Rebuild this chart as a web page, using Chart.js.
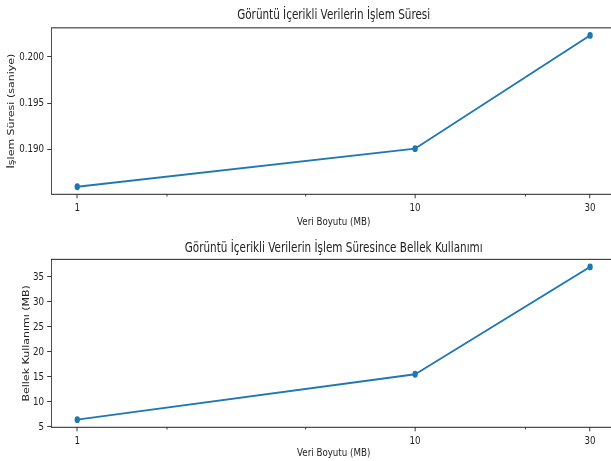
<!DOCTYPE html>
<html>
<head>
<meta charset="utf-8">
<script src="https://cdn.jsdelivr.net/npm/chart.js@4/dist/chart.umd.min.js"></script>
<style>
  html, body { margin: 0; padding: 0; overflow: hidden; background: #fff; width: 611px; height: 461px; }
  #fig { position: absolute; left: 0; top: 0; width: 785px; height: 461px; }
  #fig canvas { position: absolute; left: 0; }
</style>
</head>
<body>
<div id="fig">
  <canvas id="timeChart" width="785" height="232" style="top:0px"></canvas>
  <canvas id="memChart" width="785" height="229" style="top:232px"></canvas>
</div>
<script>
// Measurements: data size (MB), processing time (s), memory use (MB)
const sizesMB = [1, 10, 30];
const timeSec = [0.1860, 0.1901, 0.2023];
const memMB = [6.4, 15.5, 37.0];

// Tick values
const xTickValues = [1, 10, 30];
const xMinorTicks = [2, 5, 20];
const timeTicks = [0.190, 0.195, 0.200];
const memTicks = [5, 10, 15, 20, 25, 30, 35];

const SQUEEZE = 0.79;          // horizontal compression of the drawing
const FONT = "'DejaVu Sans', sans-serif";
const INK = '#222';
const BLUE = '#1f77b4';

// asinh-transformed axis (linear near zero, logarithmic further out)
class AsinhScale extends Chart.LinearScale {
  static id = 'asinh';
  static defaults = { ticks: { callback: v => String(v) } };
  buildTicks() {
    return xTickValues.map(v => ({ value: v }));
  }
  getPixelForValue(value) {
    const a = Math.asinh(this.min), b = Math.asinh(this.max);
    return this.getPixelForDecimal((Math.asinh(value) - a) / (b - a));
  }
  getValueForPixel(pixel) {
    const a = Math.asinh(this.min), b = Math.asinh(this.max);
    return Math.sinh(a + this.getDecimalForPixel(pixel) * (b - a));
  }
}
Chart.register(AsinhScale);

// narrows the whole drawing horizontally, then adds the axes frame
// and short minor ticks on the x axis
const framePlugin = {
  id: 'frame',
  beforeDraw(chart) {
    chart.ctx.save();
    chart.ctx.setTransform(SQUEEZE, 0, 0, 1, 0, 0);
  },
  afterDraw(chart) {
    const { ctx, chartArea: ca, scales } = chart;
    ctx.save();
    ctx.strokeStyle = INK;
    ctx.lineWidth = 1;
    ctx.strokeRect(ca.left, ca.top, ca.right - ca.left, ca.bottom - ca.top);
    ctx.beginPath();
    xMinorTicks.forEach(v => {
      const px = scales.x.getPixelForValue(v);
      ctx.moveTo(px, ca.bottom);
      ctx.lineTo(px, ca.bottom + 2.2);
    });
    ctx.stroke();
    ctx.restore();
    ctx.restore();
  }
};

function padded(values, frac) {
  const lo = Math.min(...values), hi = Math.max(...values);
  const m = (hi - lo) * frac;
  return [lo - m, hi + m];
}

function xLimits() {
  const a = Math.asinh(Math.min(...sizesMB)), b = Math.asinh(Math.max(...sizesMB));
  const m = (b - a) * 0.05;
  return [Math.sinh(a - m), Math.sinh(b + m)];
}

function makeChart(id, p) {
  const [xmin, xmax] = xLimits();
  const [ymin, ymax] = padded(p.values, 0.05);
  return new Chart(document.getElementById(id), {
    type: 'line',
    data: {
      datasets: [{
        data: sizesMB.map((x, i) => ({ x, y: p.values[i] })),
        borderColor: BLUE,
        backgroundColor: BLUE,
        borderWidth: 1.9,
        pointRadius: 3.4,
        pointHoverRadius: 3.4,
        pointBorderWidth: 0,
        tension: 0,
        clip: false
      }]
    },
    options: {
      responsive: false,
      animation: false,
      devicePixelRatio: 1,
      layout: { padding: { left: 0, top: 0, bottom: 0, right: 5.6 } },
      plugins: {
        legend: { display: false },
        tooltip: { enabled: false },
        title: {
          display: true,
          text: p.title,
          fullSize: false,
          color: INK,
          font: { family: FONT, size: 13.2, weight: 'normal', lineHeight: 1.2 },
          padding: { top: p.titleTop, bottom: p.titleBottom }
        }
      },
      scales: {
        x: {
          type: 'asinh',
          min: xmin,
          max: xmax,
          afterFit: s => { s.height = p.xHeight; },
          grid: { display: true, drawOnChartArea: false, drawTicks: true, tickLength: 4, tickColor: INK, tickWidth: 1 },
          border: { display: false },
          ticks: { color: INK, padding: 3.5, maxRotation: 0, autoSkip: false, font: { family: FONT, size: 11 } },
          title: {
            display: true,
            text: 'Veri Boyutu (MB)',
            color: INK,
            font: { family: FONT, size: 11, lineHeight: 1.2 },
            padding: { top: 0, bottom: p.xTitleBottom }
          }
        },
        y: {
          type: 'linear',
          min: ymin,
          max: ymax,
          afterFit: s => { s.width = 51.6 / SQUEEZE; },
          afterBuildTicks: s => { s.ticks = p.ticks.map(v => ({ value: v })); },
          grid: { display: true, drawOnChartArea: false, drawTicks: true, tickLength: 4.4 / SQUEEZE, tickColor: INK, tickWidth: 1 },
          border: { display: false },
          ticks: { color: INK, padding: 4, autoSkip: false, font: { family: FONT, size: 11 }, callback: p.fmt },
          title: {
            display: true,
            text: p.yTitle,
            color: INK,
            font: { family: FONT, size: 11, lineHeight: 1.2 },
            padding: { top: p.yTitleTop, bottom: 0 }
          }
        }
      }
    },
    plugins: [framePlugin]
  });
}

makeChart('timeChart', {
  title: 'Görüntü İçerikli Verilerin İşlem Süresi',
  yTitle: 'İşlem Süresi (saniye)',
  values: timeSec,
  ticks: timeTicks,
  fmt: v => Number(v).toFixed(3),
  titleTop: 8.1, titleBottom: 3.9,
  xHeight: 37.7, xTitleBottom: 3.4,
  yTitleTop: 8.2
});

makeChart('memChart', {
  title: 'Görüntü İçerikli Verilerin İşlem Süresince Bellek Kullanımı',
  yTitle: 'Bellek Kullanımı (MB)',
  values: memMB,
  ticks: memTicks,
  fmt: v => String(v),
  titleTop: 8.4, titleBottom: 3.1,
  xHeight: 33.7, xTitleBottom: 1.7,
  yTitleTop: 27.2
});
</script>
</body>
</html>
